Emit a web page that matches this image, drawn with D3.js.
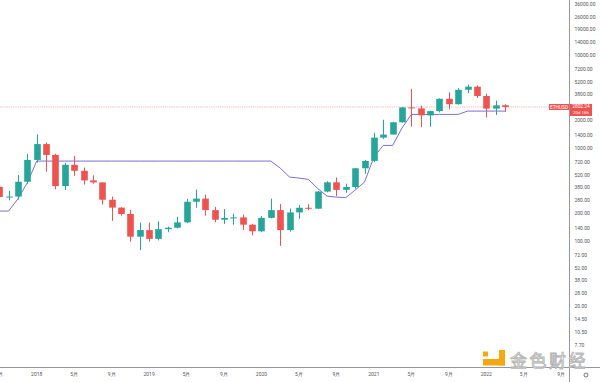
<!DOCTYPE html>
<html><head><meta charset="utf-8">
<script src="https://cdn.jsdelivr.net/npm/d3@7"></script>
<style>html,body{margin:0;padding:0;background:#fff;overflow:hidden}svg{display:block}</style>
</head><body><svg id="c" width="600" height="382"></svg>
<script>
// ---- data (ETHUSD monthly) ----
const months = ["2017-09","2017-10","2017-11","2017-12","2018-01","2018-02","2018-03","2018-04","2018-05","2018-06","2018-07","2018-08","2018-09","2018-10","2018-11","2018-12","2019-01","2019-02","2019-03","2019-04","2019-05","2019-06","2019-07","2019-08","2019-09","2019-10","2019-11","2019-12","2020-01","2020-02","2020-03","2020-04","2020-05","2020-06","2020-07","2020-08","2020-09","2020-10","2020-11","2020-12","2021-01","2021-02","2021-03","2021-04","2021-05","2021-06","2021-07","2021-08","2021-09","2021-10","2021-11","2021-12","2022-01","2022-02","2022-03"];
const open  = [388,302,305,440,755,1118,855,395,670,577,455,433,282,232,198,113,133,107,136,141,161,268,290,218,172,180,182,152,129,180,218,133,206,231,226,345,434,360,386,614,737,1312,1417,1918,2773,2706,2275,2530,3433,3000,4290,4630,3680,2690,2920];
const high  = [395,350,520,880,1420,1160,880,705,835,625,515,435,305,235,220,160,160,165,145,185,288,363,320,236,224,199,195,154,188,290,253,227,247,252,350,445,488,420,622,755,1476,2042,1943,2800,4380,2890,2550,3470,4030,4460,4870,4780,3890,3280,3000];
const low   = [197,278,283,415,706,565,365,360,510,410,420,250,167,190,100,81,100,103,126,139,158,231,190,162,155,152,133,117,126,178,90,128,176,217,225,339,308,335,371,535,715,1271,1415,1900,1720,1700,1720,2450,2650,2970,3950,3500,2160,2300,2480];
const close = [302,305,440,755,1118,855,395,670,577,455,433,282,232,198,113,133,107,136,141,161,268,290,218,172,180,182,152,129,180,218,133,206,231,226,345,434,360,386,614,737,1312,1417,1918,2773,2706,2275,2530,3433,3000,4290,4630,3680,2690,2920,2802.24];
const trend = [213,213,289,429,734,734,734,734,734,734,734,734,734,734,734,734,734,734,734,734,734,734,734,734,734,734,734,734,734,734,617,494,482,467,373,308,301,297,358,436,811,1082,1082,1661,2332,2332,2332,2332,2332,2332,2530,2530,2530,2530,2530];
const yTicks = [7.7,10.5,14.5,20,28,38,52,72,100,140,200,280,380,520,720,1000,1400,2000,2800,3800,5200,7200,10000,14000,19000,26000,36000];
const xTickMonths = ["2017-09","2018-01","2018-05","2018-09","2019-01","2019-05","2019-09","2020-01","2020-05","2020-09","2021-01","2021-05","2021-09","2022-01","2022-05","2022-09"];
const xTickLabels = ["9月","2018","5月","9月","2019","5月","9月","2020","5月","9月","2021","5月","9月","2022","5月","9月"];
const symbol = "ETHUSD";
const lastPrice = 2802.24;
const countdown = "20d 16h";

// ---- layout ----
const W = 600, H = 382, plotR = 569.5, plotB = 367.5;
const UP = "#26a69a", DOWN = "#ef5350", LINE = "#6a5fd0";
const FONT = "Roboto, 'Liberation Sans', Arial, sans-serif";
const svg = d3.select("#c");

const mIndex = s => { const [y, m] = s.split("-").map(Number); return (y - 2017) * 12 + (m - 9); };
const x = d3.scaleLinear().domain([0, 60]).range([-0.76, -0.76 + 60 * 9.366]);
const b = 93, y2000 = 120.6;
const y = d3.scaleLog().domain([7.7, 36000])
  .range([y2000 + b * Math.log10(2000 / 7.7), y2000 - b * Math.log10(36000 / 2000)]);

const bars = months.map((m, i) => ({ i: mIndex(m), o: open[i], h: high[i], l: low[i], c: close[i], t: trend[i] }));

svg.append("rect").attr("width", W).attr("height", H).attr("fill", "#fff");
svg.append("defs").append("clipPath").attr("id", "plot")
  .append("rect").attr("x", 0).attr("y", 0).attr("width", plotR).attr("height", plotB);

const g = svg.append("g").attr("clip-path", "url(#plot)");

// last-price line
g.append("line").attr("x1", 0).attr("x2", plotR).attr("y1", y(lastPrice)).attr("y2", y(lastPrice))
  .attr("stroke", DOWN).attr("stroke-opacity", 0.55).attr("stroke-width", 0.8).attr("stroke-dasharray", "1.2 1");

// trend line
g.append("path").datum(bars)
  .attr("d", d3.line().x(d => x(d.i)).y(d => y(d.t)))
  .attr("fill", "none").attr("stroke", LINE).attr("stroke-width", 0.9);

// candles
const bw = 6.6;
const cg = g.selectAll("g.c").data(bars).join("g")
  .attr("fill", d => d.c >= d.o ? UP : DOWN).attr("stroke", d => d.c >= d.o ? UP : DOWN);
cg.append("line").attr("x1", d => Math.round(x(d.i)) + 0.5).attr("x2", d => Math.round(x(d.i)) + 0.5)
  .attr("y1", d => y(d.h)).attr("y2", d => y(d.l)).attr("stroke-width", 1);
cg.append("rect").attr("stroke", "none")
  .attr("x", d => Math.round(x(d.i)) + 0.5 - bw / 2).attr("width", bw)
  .attr("y", d => y(Math.max(d.o, d.c)))
  .attr("height", d => Math.max(1, Math.abs(y(d.o) - y(d.c))));

// axes lines
svg.append("line").attr("x1", plotR).attr("x2", plotR).attr("y1", 0).attr("y2", H).attr("stroke", "#9598a1").attr("stroke-width", 1);
svg.append("line").attr("x1", 0).attr("x2", W).attr("y1", plotB).attr("y2", plotB).attr("stroke", "#9598a1").attr("stroke-width", 1);

// right axis labels (ticks hidden under the last-price label are skipped, as the platform does)
const py = y(lastPrice);
svg.append("g").selectAll("text").data(yTicks.filter(v => y(v) - py < -6 || y(v) - py > 13)).join("text")
  .attr("x", 574.5).attr("y", d => y(d)).attr("dy", "0.35em")
  .attr("font-family", FONT).attr("font-size", 5).attr("fill", "#555")
  .text(d => d3.format(".2f")(d));

// bottom axis labels
svg.append("g").selectAll("text").data(xTickMonths).join("text")
  .attr("x", d => x(mIndex(d))).attr("y", 376).attr("text-anchor", "middle")
  .attr("font-family", FONT).attr("font-size", 5).attr("fill", "#555")
  .text((d, i) => xTickLabels[i]);

// price labels
svg.append("rect").attr("x", 549).attr("y", py - 3).attr("width", 20).attr("height", 6).attr("fill", DOWN);
svg.append("text").attr("x", 559).attr("y", py).attr("dy", "0.35em").attr("text-anchor", "middle")
  .attr("font-family", FONT).attr("font-size", 4.8).attr("fill", "#fff").text(symbol);
svg.append("rect").attr("x", 570).attr("y", py - 3).attr("width", 22).attr("height", 12).attr("fill", DOWN);
svg.append("text").attr("x", 581).attr("y", py - 0.2).attr("dy", "0.35em").attr("text-anchor", "middle")
  .attr("font-family", FONT).attr("font-size", 4.8).attr("fill", "#fff").text(d3.format(".2f")(lastPrice));
svg.append("text").attr("x", 581).attr("y", py + 5.8).attr("dy", "0.35em").attr("text-anchor", "middle")
  .attr("font-family", FONT).attr("font-size", 4.4).attr("fill", "#fff").text(countdown);

// settings icon
svg.append("circle").attr("cx", 586).attr("cy", 375).attr("r", 2).attr("fill", "none").attr("stroke", "#555").attr("stroke-width", 0.8);

// watermark
const wm = svg.append("g");
wm.append("rect").attr("x", 483).attr("y", 351.5).attr("width", 5).attr("height", 5).attr("fill", "#f5a80f");
wm.append("rect").attr("x", 499).attr("y", 350).attr("width", 6).attr("height", 15.5).attr("fill", "#f5a80f");
wm.append("rect").attr("x", 483).attr("y", 359).attr("width", 22).attr("height", 6.5).attr("fill", "#f5a80f");
wm.append("text").attr("x", 510).attr("y", 366.5).attr("font-family", "'Noto Sans CJK SC', sans-serif")
  .attr("font-size", 17).attr("letter-spacing", 2.5).attr("fill", "#fff").attr("fill-opacity", 0.85)
  .attr("stroke", "#b5b5b5").attr("stroke-width", 0.9).text("金色财经");
</script></body></html>
